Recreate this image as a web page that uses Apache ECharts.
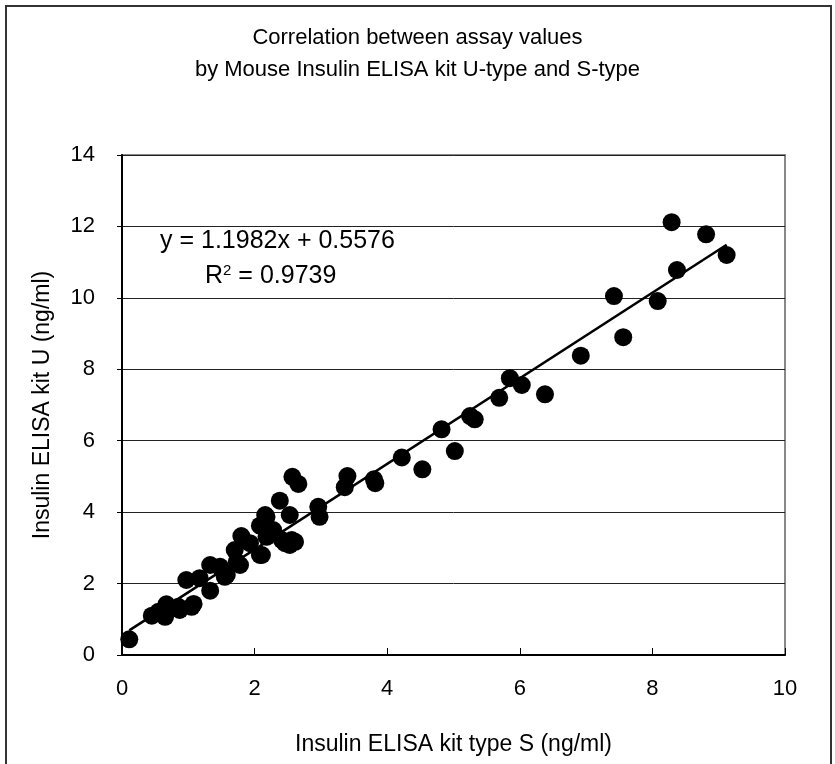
<!DOCTYPE html>
<html>
<head>
<meta charset="utf-8">
<script src="https://cdn.jsdelivr.net/npm/echarts@6/dist/echarts.min.js"></script>
<style>html,body{margin:0;padding:0;background:#fff;}#c{width:835px;height:764px;}</style>
</head>
<body>
<div id="c"></div>
<script>
const titleLines = ['Correlation between assay values', 'by Mouse Insulin ELISA kit U-type and S-type'];
const xName = 'Insulin ELISA kit type S (ng/ml)';
const yName = 'Insulin ELISA kit U (ng/ml)';
const xS = [0.11,0.45,0.55,0.65,0.67,0.85,0.87,1.05,1.08,0.97,1.17,1.33,1.33,1.48,1.55,1.58,1.73,1.78,1.70,1.80,1.93,2.08,2.08,2.11,2.16,2.18,2.18,2.28,2.38,2.41,2.46,2.53,2.53,2.56,2.61,2.57,2.66,2.96,2.98,3.36,3.40,3.80,3.82,4.22,4.53,4.82,5.02,5.25,5.32,5.69,5.85,6.03,6.38,6.92,7.56,7.42,8.08,8.37,8.29,8.81,9.12];
const yU = [0.44,1.10,1.21,1.07,1.42,1.35,1.26,1.35,1.43,2.10,2.15,1.80,2.52,2.47,2.19,2.24,2.61,2.52,2.94,3.33,3.13,2.80,3.62,2.80,3.92,3.87,3.31,3.50,4.32,3.22,3.13,3.92,3.08,3.22,3.17,4.99,4.79,4.15,3.87,4.70,5.01,4.92,4.81,5.53,5.20,6.32,5.71,6.69,6.60,7.20,7.75,7.56,7.30,8.38,8.90,10.05,9.91,10.78,12.12,11.78,11.20];
const slope = 1.1982, intercept = 0.5576, r2 = '0.9739';
const xTicks = [0,2,4,6,8,10];
const yTicks = [0,2,4,6,8,10,12,14];

const pts = xS.map((x,i)=>[x,yU[i]]);
const xmin = Math.min(...xS), xmax = Math.max(...xS);
const trend = [[xmin, slope*xmin+intercept],[xmax, slope*xmax+intercept]];

const chart = echarts.init(document.getElementById('c'));
const F = 'Liberation Sans, Arial, sans-serif';
chart.setOption({
  animation:false,
  title:{text: titleLines.join('\n'), left:'center', top:17, textStyle:{fontFamily:F, fontSize:22, fontWeight:'normal', color:'#000', lineHeight:32}},
  grid:{left:122, top:155, width:663, height:500, show:true, borderColor:'#888', borderWidth:2, backgroundColor:'transparent'},
  xAxis:{type:'value', min:0, max:10, interval:2, name:xName, nameLocation:'middle', nameGap:78,
    nameTextStyle:{fontFamily:F, fontSize:23, color:'#000'},
    axisLine:{onZero:false, lineStyle:{color:'#000', width:2}},
    axisTick:{inside:true, length:7, lineStyle:{color:'#000'}},
    axisLabel:{fontFamily:F, fontSize:22, color:'#000', margin:23},
    splitLine:{show:false}},
  yAxis:{type:'value', min:0, max:14, interval:2, name:yName, nameLocation:'middle', nameGap:68,
    nameTextStyle:{fontFamily:F, fontSize:23, color:'#000'},
    axisLine:{onZero:false, lineStyle:{color:'#000', width:2}},
    axisTick:{show:true, length:5, lineStyle:{color:'#000'}},
    axisLabel:{fontFamily:F, fontSize:22, color:'#000', margin:27},
    splitLine:{show:true, lineStyle:{color:'#222', width:1}}},
  series:[
    {type:'line', data:trend, symbol:'none', lineStyle:{color:'#000', width:2.5}, z:3},
    {type:'scatter', data:pts, symbol:'circle', symbolSize:18, itemStyle:{color:'#000', opacity:1}, z:4}
  ],
  graphic:[
    {type:'rect', shape:{x:6, y:6, width:825, height:800}, style:{fill:'none', stroke:'#333', lineWidth:2}, z:-1},
    {type:'text', left:160, top:229, style:{text:'y = '+slope+'x + '+intercept, font:'25px '+F, fill:'#000'}},
    {type:'text', left:205, top:263, style:{text:'R{s|2} = '+r2, font:'25px '+F, fill:'#000', rich:{s:{fontSize:15, verticalAlign:'top', padding:[0,0,12,0], fontFamily:F}}}}
  ]
});
</script>
</body>
</html>
